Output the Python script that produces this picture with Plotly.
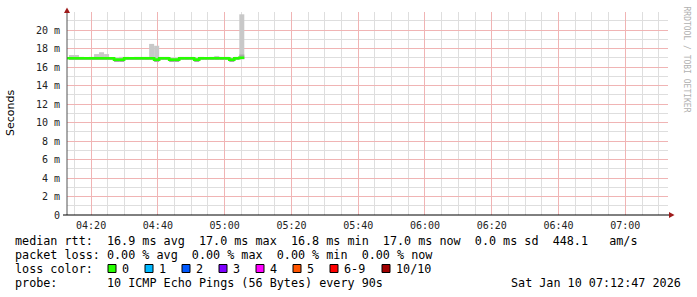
import plotly.graph_objects as go
import pandas as pd

# ---------------- data ----------------
bin_start = "2026-01-10 04:11:53"   # first 90 s bin (partly left of the window)
step_seconds = 90
n_bins = 36
view_start = "2026-01-10 04:12:47"
view_end = "2026-01-10 07:12:47"

median_ms = [16.95,
             16.95, 16.95, 16.95, 16.95, 16.95, 16.95, 16.95, 16.95, 16.95,
             16.8, 16.8,
             16.95, 16.95, 16.95, 16.95, 16.95, 16.95,
             16.8,
             16.95, 16.95,
             16.8, 16.8,
             16.95, 16.95, 16.95,
             16.8,
             16.95, 16.95, 16.95, 16.95, 16.95, 16.95,
             16.8,
             16.95,
             17.0]
smoke_max_ms = [None,
                17.3, 17.3, 17.1, 17.0, 17.1, 17.4, 17.6, 17.4, 17.0, 17.0,
                17.1, 17.1, 17.05, 17.1, 17.1, 17.1, 18.5, 18.3, 17.1, 17.1,
                17.0, 17.0, 17.1, 17.1, 17.1, 17.0, 17.1, 17.05, 17.1, 17.2,
                17.1, 17.1, 17.0, 17.1, 21.7]
smoke_min_ms = [None,
                16.8, 16.8, 16.8, 16.8, 16.8, 16.8, 16.8, 16.8, 16.8, 16.65,
                16.65, 16.8, 16.8, 16.8, 16.8, 16.8, 16.8, 16.65, 16.8, 16.8,
                16.65, 16.65, 16.8, 16.8, 16.8, 16.65, 16.8, 16.8, 16.8, 16.8,
                16.8, 16.8, 16.65, 16.8, 16.85]
smoke_core_ms = [None,
                 17.0, 17.0, 17.0, 17.0, 17.0, 17.0, 17.0, 17.0, 17.0, 16.85,
                 16.85, 17.0, 17.0, 17.0, 17.0, 17.0, 17.0, 16.85, 17.0, 17.0,
                 16.85, 16.85, 17.0, 17.0, 17.0, 16.85, 17.0, 17.0, 17.0, 17.0,
                 17.0, 17.0, 16.85, 17.0, 17.35]

y_tick_vals = [0, 2, 4, 6, 8, 10, 12, 14, 16, 18, 20]
y_tick_text = ["0", "2 m", "4 m", "6 m", "8 m", "10 m", "12 m", "14 m", "16 m", "18 m", "20 m"]
y_minor_vals = [1, 3, 5, 7, 9, 11, 13, 15, 17, 19, 21]

loss_labels = ["0", "1", "2", "3", "4", "5", "6-9", "10/10"]
loss_colors = ["#26ff00", "#00b8ff", "#0059ff", "#7e00ff", "#ff00ff", "#ff5500", "#ff0000", "#a10000"]

row_rtt = "median rtt:  16.9 ms avg  17.0 ms max  16.8 ms min  17.0 ms now  0.0 ms sd  448.1   am/s"
row_loss = "packet loss: 0.00 % avg  0.00 % max  0.00 % min  0.00 % now"
row_color = "loss color:"
row_probe = "probe:       10 ICMP Echo Pings (56 Bytes) every 90s"
stamp_text = "Sat Jan 10 07:12:47 2026"

# ---------------- geometry ----------------
W, H = 697, 297
PL, PR, PT, PB = 67, 668, 12, 215
Y_TOP = 21.95

def fx(px):
    return (px - PL) / (PR - PL)

def fy(py):
    return (PB - py) / (PB - PT)

times = pd.date_range(bin_start, periods=n_bins, freq=f"{step_seconds}s")
centers = times + pd.Timedelta(seconds=step_seconds / 2)
end_time = times[-1] + pd.Timedelta(seconds=step_seconds)

# minor vertical grid every 5 min, skipping the 20-min major lines
five_min = pd.date_range("2026-01-10 04:15:00", "2026-01-10 07:10:00", freq="5min")
x_minor_vals = [t for t in five_min if t.minute % 20 != 0]

fig = go.Figure()

# light smoke (min..max)
sx, sb, sh = [], [], []
for c, lo, hi in zip(centers, smoke_min_ms, smoke_max_ms):
    if lo is None:
        continue
    sx.append(c); sb.append(lo); sh.append(hi - lo)
fig.add_trace(go.Bar(x=sx, y=sh, base=sb, width=step_seconds * 1000,
                     marker=dict(color="#c8c8c8", line=dict(width=0)),
                     showlegend=False, hoverinfo="skip"))
# darker smoke core
cx, cb, ch = [], [], []
for c, lo, hi in zip(centers, smoke_min_ms, smoke_core_ms):
    if lo is None:
        continue
    cx.append(c); cb.append(lo); ch.append(hi - lo)
fig.add_trace(go.Bar(x=cx, y=ch, base=cb, width=step_seconds * 1000,
                     marker=dict(color="#a8a8a8", line=dict(width=0)),
                     showlegend=False, hoverinfo="skip"))
# median line (loss 0 colour)
fig.add_trace(go.Scatter(x=list(times) + [end_time], y=median_ms + [median_ms[-1]],
                         mode="lines", line=dict(color=loss_colors[0], width=2.6, shape="hv"),
                         showlegend=False, hoverinfo="skip"))

grid_major = "#f0b4b4"
grid_minor = "#dedede"

fig.update_layout(
    width=W, height=H,
    margin=dict(l=PL, r=W - PR, t=PT, b=H - PB, pad=0),
    paper_bgcolor="white", plot_bgcolor="white",
    barmode="overlay",
    showlegend=False,
    font=dict(family="DejaVu Sans Mono", size=10, color="#000"),
    xaxis=dict(
        type="date", range=[view_start, view_end],
        tickmode="linear", tick0="2026-01-10 04:20:00", dtick=20 * 60 * 1000,
        tickformat="%H:%M", ticks="", ticklabelstandoff=3,
        tickfont=dict(family="DejaVu Sans Mono", size=10, color="#222"),
        showgrid=True, gridcolor=grid_major, griddash="solid", gridwidth=1,
        minor=dict(tickmode="array", tickvals=x_minor_vals, showgrid=True,
                   gridcolor=grid_minor, griddash="solid", gridwidth=1, ticks=""),
        showline=False, zeroline=False, fixedrange=True,
    ),
    yaxis=dict(
        range=[0, Y_TOP], tickmode="array", tickvals=y_tick_vals, ticktext=y_tick_text,
        ticks="", ticklabelstandoff=6,
        tickfont=dict(family="DejaVu Sans Mono", size=10, color="#222"),
        showgrid=True, gridcolor=grid_major, griddash="solid", gridwidth=1,
        minor=dict(tickmode="array", tickvals=y_minor_vals, showgrid=True,
                   gridcolor=grid_minor, griddash="solid", gridwidth=1, ticks=""),
        showline=False, zeroline=False, fixedrange=True,
    ),
)

shapes = []
# axes lines
shapes.append(dict(type="line", xref="paper", yref="paper", x0=fx(PL), x1=fx(PL),
                   y0=fy(PB), y1=fy(11), line=dict(color="#555555", width=1)))
shapes.append(dict(type="line", xref="paper", yref="paper", x0=fx(63), x1=fx(670),
                   y0=fy(PB), y1=fy(PB), line=dict(color="#000000", width=1)))
# arrows
arrow_col = "#9e1b1b"
shapes.append(dict(type="path", xref="paper", yref="paper",
                   path=f"M {fx(64)} {fy(13)} L {fx(70)} {fy(13)} L {fx(67)} {fy(7.5)} Z",
                   fillcolor=arrow_col, line=dict(width=0)))
shapes.append(dict(type="path", xref="paper", yref="paper",
                   path=f"M {fx(669)} {fy(212)} L {fx(669)} {fy(218)} L {fx(674.5)} {fy(215)} Z",
                   fillcolor=arrow_col, line=dict(width=0)))

annotations = []
mono = dict(family="DejaVu Sans Mono", size=11.75, color="#000")
NB = "\u00a0"

def txt(text, x, y, anchor="left"):
    annotations.append(dict(text=text.replace(" ", NB), xref="paper", yref="paper",
                            x=fx(x), y=fy(y),
                            xanchor=anchor, yanchor="middle", showarrow=False,
                            font=mono, borderpad=0, borderwidth=0))

txt(row_rtt, 15, 241)
txt(row_loss, 15, 255)
txt(row_color, 15, 269)
sq_x = [108, 145, 182, 219, 256, 293, 330, 382]
for lab, col, x in zip(loss_labels, loss_colors, sq_x):
    shapes.append(dict(type="rect", xref="paper", yref="paper", x0=fx(x), x1=fx(x + 8),
                       y0=fy(272.5), y1=fy(264.5), fillcolor=col,
                       line=dict(color="#000", width=1)))
    txt(lab, x + 14, 269)
txt(row_probe, 15, 283)
txt(stamp_text, 681, 283, anchor="right")

# y title
annotations.append(dict(text="Seconds", xref="paper", yref="paper", x=fx(11), y=fy(113),
                        xanchor="center", yanchor="middle", textangle=-90, showarrow=False,
                        font=dict(family="DejaVu Sans", size=11, color="#000")))
# watermark
annotations.append(dict(text="RRDTOOL / TOBI OETIKER", xref="paper", yref="paper",
                        x=fx(686.5), y=fy(59), xanchor="center", yanchor="middle",
                        textangle=90, showarrow=False,
                        font=dict(family="DejaVu Sans Mono", size=8, color="#b0b0b0")))

fig.update_layout(shapes=shapes, annotations=annotations)
fig.write_html("out.html")
